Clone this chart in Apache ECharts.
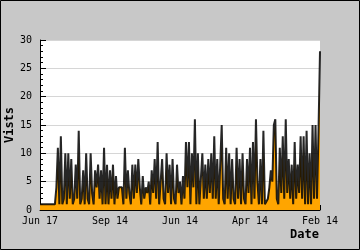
<!DOCTYPE html>
<html><head><meta charset="utf-8">
<script src="https://cdn.jsdelivr.net/npm/echarts@6/dist/echarts.min.js"></script>
<style>html,body{margin:0;padding:0;background:#c8c8c8}#c{width:360px;height:250px}</style>
</head><body><div id="c"></div>
<script>
var tickLabels = ["Jun 17", "Sep 14", "Jun 14", "Apr 14", "Feb 14"];
var visits = [1,1,1,1,1,1,1,1,1,1,1,4,11,1,13,1,2,10,1,10,2,9,1,2,8,2,14,1,2,7,1,10,2,1,10,3,1,7,4,8,2,7,1,11,1,8,1,7,2,8,1,6,2,4,4,4,1,11,2,7,3,1,8,2,8,3,9,4,1,6,2,4,3,5,1,7,3,9,2,12,1,1,9,2,1,10,3,8,1,9,2,1,8,3,5,1,6,2,12,4,12,1,10,4,16,1,10,1,1,10,2,8,2,9,3,10,2,13,2,9,1,1,15,2,1,11,2,10,1,9,2,1,11,2,9,1,10,2,1,9,3,11,1,12,2,16,5,1,9,1,14,1,1,2,4,7,5,15,16,2,1,11,3,13,2,16,3,9,2,8,1,12,2,8,3,13,2,13,1,14,1,10,1,15,2,15,2,14,28];
var unique = [1,1,1,1,1,1,1,1,1,1,1,3,8.5,1,7.5,1,2,5.5,1,6,2,7,1,2,4.5,2,10.5,1,2,5,1,6,2,1,6.5,3,1,5.5,4,6,2,4,1,6,1,6,1,5,2,7,1,5,2,4,4,4,1,6,2,5,3,1,5.5,2,7,3,6,4,1,4,2,4,3,4.5,1,6,3,6,2,6.5,1,1,7,2,1,8,3,5,1,6,2,1,6.5,3,4,1,4,2,9,4,8,1,7,4,8.5,1,8,1,1,7,2,6,2,7,3,6,2,8,2,6,1,1,11.5,2,1,9,2,7,1,6,2,1,9,2,6,1,8,2,1,7,3,8.5,1,7,2,13,5,1,5,1,10.5,1,1,2,4,6,5,13,15,2,1,9,3,10,2,9.5,3,6.5,2,7,1,8.5,2,6,3,10.5,2,11,1,8.5,1,8,1,10.5,2,8.5,2,13,23.5];
var categories = visits.map(function(_, i){ return String(i); });
var labelStep = (categories.length - 1) / (tickLabels.length - 1);

var chart = echarts.init(document.getElementById('c'), null, {renderer: 'canvas'});
var mono = '"DejaVu Sans Mono", monospace';
chart.setOption({
  animation: false,
  backgroundColor: '#c8c8c8',
  grid: {left: 40, right: 40, top: 40, bottom: 40, show: true, backgroundColor: '#ffffff', borderWidth: 0, containLabel: false, outerBoundsMode: 'none'},
  graphic: [
    {type: 'rect', shape: {x: 0.5, y: 0.5, width: 359, height: 249}, style: {fill: 'none', stroke: '#000', lineWidth: 1}, silent: true},
    {type: 'text', right: 41, top: 229, style: {text: 'Date', font: 'bold 12px ' + mono, fill: '#000'}}
  ],
  xAxis: {
    type: 'category', data: categories, boundaryGap: false,
    axisLine: {lineStyle: {color: '#000', width: 1}},
    axisTick: {inside: true, length: 5, interval: labelStep - 1, lineStyle: {color: '#000'}},
    axisLabel: {interval: labelStep - 1, margin: 6, color: '#000', fontFamily: mono, fontSize: 10,
      formatter: function(v, idx){ return tickLabels[Math.round(idx / labelStep)]; }},
    splitLine: {show: false}
  },
  yAxis: {
    type: 'value', min: 0, max: 30, interval: 5,
    name: 'Vists', nameLocation: 'middle', nameRotate: 90, nameGap: 24, nameMoveOverlap: false,
    nameTextStyle: {fontFamily: mono, fontWeight: 'bold', fontSize: 12, color: '#000'},
    axisLine: {show: true, lineStyle: {color: '#000', width: 1}},
    axisTick: {show: true, inside: true, length: 6, lineStyle: {color: '#000'}},
    minorTick: {show: true, splitNumber: 5, length: 3, lineStyle: {color: '#000'}},
    axisLabel: {color: '#000', fontFamily: mono, fontSize: 10, margin: 8},
    splitLine: {show: true, lineStyle: {color: '#d6d6d6', width: 1}}
  },
  series: [
    {type: 'line', data: unique, symbol: 'none', z: 2,
      lineStyle: {width: 0, color: '#ffa500'}, areaStyle: {color: '#ffa500', opacity: 1}},
    {type: 'line', data: visits, symbol: 'none', z: 3,
      lineStyle: {width: 2, color: '#000', opacity: 0.85}}
  ]
});
</script></body></html>
